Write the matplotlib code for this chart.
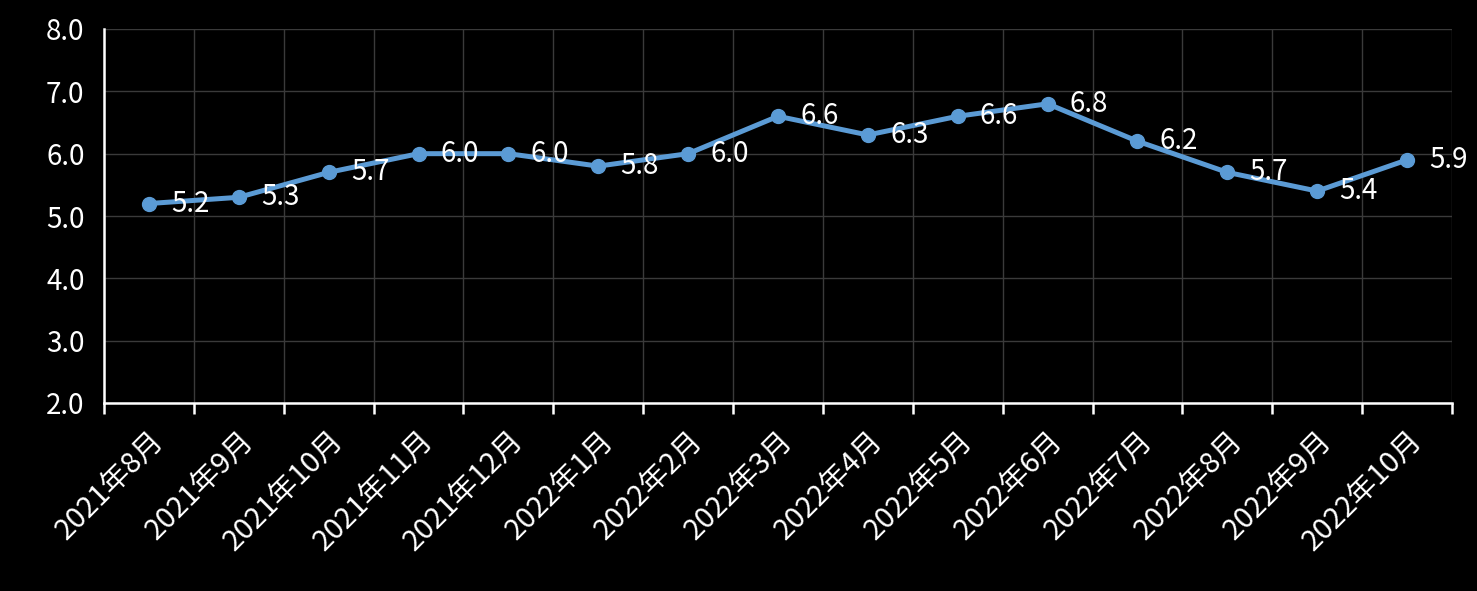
import numpy as np
import matplotlib
matplotlib.use('Agg')
import matplotlib.pyplot as plt
from matplotlib.ticker import FixedLocator

plt.rcParams['font.family'] = ['Noto Sans CJK SC', 'DejaVu Sans']

months = ['2021年8月', '2021年9月', '2021年10月', '2021年11月', '2021年12月',
          '2022年1月', '2022年2月', '2022年3月', '2022年4月', '2022年5月',
          '2022年6月', '2022年7月', '2022年8月', '2022年9月', '2022年10月']
values = [5.2, 5.3, 5.7, 6.0, 6.0, 5.8, 6.0, 6.6, 6.3, 6.6, 6.8, 6.2, 5.7, 5.4, 5.9]
y_ticks = [2.0, 3.0, 4.0, 5.0, 6.0, 7.0, 8.0]

fig = plt.figure(figsize=(14.77, 5.91), dpi=100)
fig.patch.set_facecolor('black')
ax = fig.add_axes([104 / 1477, 1 - 403 / 591, (1452 - 104) / 1477, (403 - 29) / 591])
ax.set_facecolor('black')

x = np.arange(len(months))
ax.plot(x, values, color='#5B9BD5', lw=3.6, marker='o', ms=10, zorder=3,
        solid_capstyle='round')

for xi, v in zip(x, values):
    ax.annotate(f'{v:.1f}', (xi, v), xytext=(16, 0), textcoords='offset points',
                color='white', fontsize=20, va='center', ha='left', zorder=4)

ax.set_xlim(-0.5, len(months) - 0.5)
ax.set_ylim(2.0, 8.0)
ax.set_yticks(y_ticks)
ax.set_yticklabels([f'{t:.1f}' for t in y_ticks], color='white', fontsize=20)
ax.tick_params(axis='y', length=0, pad=14)

# category labels at centers, tick marks / grid at category boundaries
ax.set_xticks(x)
ax.set_xticklabels(months, rotation=45, ha='right', rotation_mode='anchor',
                   color='white', fontsize=21)
ax.tick_params(axis='x', which='major', length=0, pad=16)
ax.xaxis.set_minor_locator(FixedLocator(np.arange(-0.5, len(months), 1.0)))
ax.tick_params(axis='x', which='minor', length=8, width=1.8, color='white',
               direction='out')

ax.grid(True, which='minor', axis='x', color='#3a3a3a', lw=1)
ax.grid(True, which='major', axis='y', color='#3a3a3a', lw=1)
ax.set_axisbelow(True)

for side in ['top', 'right']:
    ax.spines[side].set_visible(False)
for side in ['left', 'bottom']:
    ax.spines[side].set_color('white')
    ax.spines[side].set_linewidth(1.8)

plt.savefig('out.png', dpi=100, facecolor='black')
